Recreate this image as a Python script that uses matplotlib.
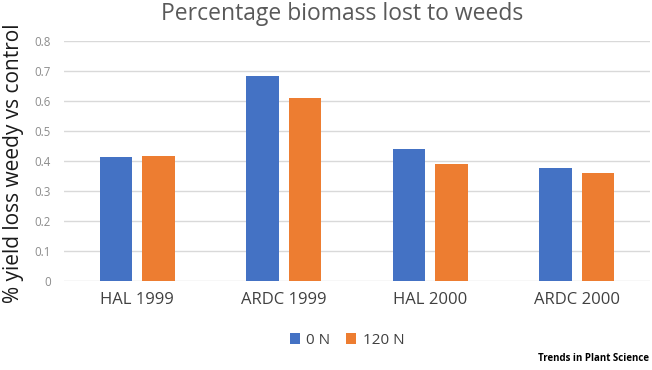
import matplotlib
matplotlib.use("Agg")
import matplotlib.pyplot as plt
import numpy as np

categories = ["HAL 1999", "ARDC 1999", "HAL 2000", "ARDC 2000"]
series_names = ["0 N", "120 N"]
values_0N = [0.414, 0.684, 0.439, 0.378]
values_120N = [0.418, 0.611, 0.390, 0.359]
yticks = [0, 0.1, 0.2, 0.3, 0.4, 0.5, 0.6, 0.7, 0.8]
ytick_labels = ["0", "0.1", "0.2", "0.3", "0.4", "0.5", "0.6", "0.7", "0.8"]

plt.rcParams['font.family'] = ['Open Sans', 'DejaVu Sans']

fig = plt.figure(figsize=(6.52, 3.70), dpi=100)
ax = fig.add_axes([0.098, 0.2405, 0.899, 0.6487])

x = np.arange(len(categories))
w = 0.22
off = 0.145
ax.bar(x - off, values_0N, width=w, color="#4472C4", label=series_names[0], zorder=3)
ax.bar(x + off, values_120N, width=w, color="#ED7D31", label=series_names[1], zorder=3)

ax.set_xlim(-0.5, 3.5)
ax.set_ylim(0, 0.8)
ax.set_yticks(yticks)
ax.set_yticklabels(ytick_labels, fontsize=8.3, color="#8c8c8c")
ax.set_xticks(x)
ax.set_xticklabels(categories, fontsize=12, color="#404040")
ax.tick_params(axis='both', length=0)
ax.tick_params(axis='y', pad=9.5)
ax.tick_params(axis='x', pad=8)
ax.grid(axis='y', color="#d9d9d9", linewidth=1, zorder=0)
for s in ax.spines.values():
    s.set_visible(False)

fig.text(0.525, 0.962, "Percentage biomass lost to weeds", ha="center", va="center",
         fontsize=16.5, color="#595959")
fig.text(0.02, 0.56, "% yield loss weedy vs control", ha="center", va="center",
         rotation=90, fontsize=15, color="#1a1a1a")

leg = fig.legend(loc="center", bbox_to_anchor=(0.532, 0.08), ncol=2, frameon=False,
                 fontsize=11, handlelength=0.7, handleheight=0.7, handletextpad=0.4,
                 columnspacing=1.0)
for t in leg.get_texts():
    t.set_color("#404040")

fig.text(0.995, 0.032, "Trends in Plant Science", ha="right", va="center",
         fontsize=7, fontweight="bold", color="#000000")

fig.savefig("out.png", dpi=100)
